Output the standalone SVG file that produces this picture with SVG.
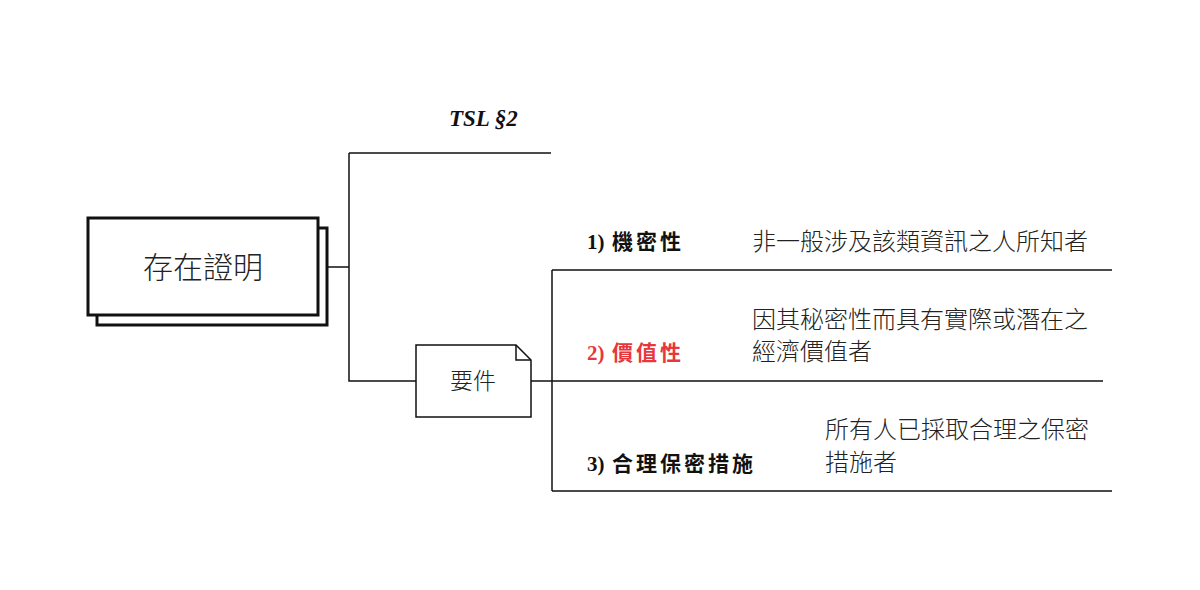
<svg xmlns="http://www.w3.org/2000/svg" width="1200" height="590" viewBox="0 0 1200 590">
<style>
.ln{fill:none;stroke:#111;stroke-width:1.5}
.box{fill:#fff;stroke:#111;stroke-width:3}
.cjk{font-family:"Noto Sans CJK TC","Noto Sans CJK SC",sans-serif;fill:#222;font-weight:300}
.num{font-family:"Liberation Serif",serif;font-weight:bold;font-size:21px;fill:#111}
.lbl{font-family:"Noto Sans CJK TC","Noto Sans CJK SC",sans-serif;font-weight:bold;font-size:21px;fill:#111;letter-spacing:3px}
.red{fill:#e8373c}
.desc{font-size:24px}
</style>
<rect width="1200" height="590" fill="#fff"/>
<g id="connectors">
<path class="ln" d="M327 267H349M349 153V381H416M349 153H551"/>
<path class="ln" d="M531 381H552M552 270V491M552 270H1112M552 381H1103M552 491H1112"/>
</g>
<g id="node-proof">
<rect class="box" x="97" y="228" width="230" height="97"/>
<rect class="box" x="88" y="218" width="230" height="97"/>
<text class="cjk" x="203" y="278" font-size="30" text-anchor="middle">存在證明</text>
</g>
<g id="node-tsl">
<text x="449" y="126" font-family="Liberation Serif, serif" font-weight="bold" font-style="italic" font-size="23" fill="#111">TSL §2</text>
</g>
<g id="node-req">
<path d="M416 345H516L531 360V417H416Z" fill="#fff" stroke="#111" stroke-width="1.5"/>
<path d="M516 345V360H531" fill="none" stroke="#111" stroke-width="1.5"/>
<text class="cjk" x="473" y="389" font-size="23" text-anchor="middle">要件</text>
</g>
<g id="node-1">
<text class="num" x="587" y="249">1)</text>
<text class="lbl" x="612" y="249">機密性</text>
<text class="cjk desc" x="752" y="250">非一般涉及該類資訊之人所知者</text>
</g>
<g id="node-2">
<text class="num red" x="587" y="360">2)</text>
<text class="lbl red" x="612" y="360">價值性</text>
<text class="cjk desc" x="752" y="328">因其秘密性而具有實際或潛在之</text>
<text class="cjk desc" x="752" y="360">經濟價值者</text>
</g>
<g id="node-3">
<text class="num" x="587" y="471">3)</text>
<text class="lbl" x="612" y="471">合理保密措施</text>
<text class="cjk desc" x="825" y="438">所有人已採取合理之保密</text>
<text class="cjk desc" x="825" y="471">措施者</text>
</g>
</svg>
